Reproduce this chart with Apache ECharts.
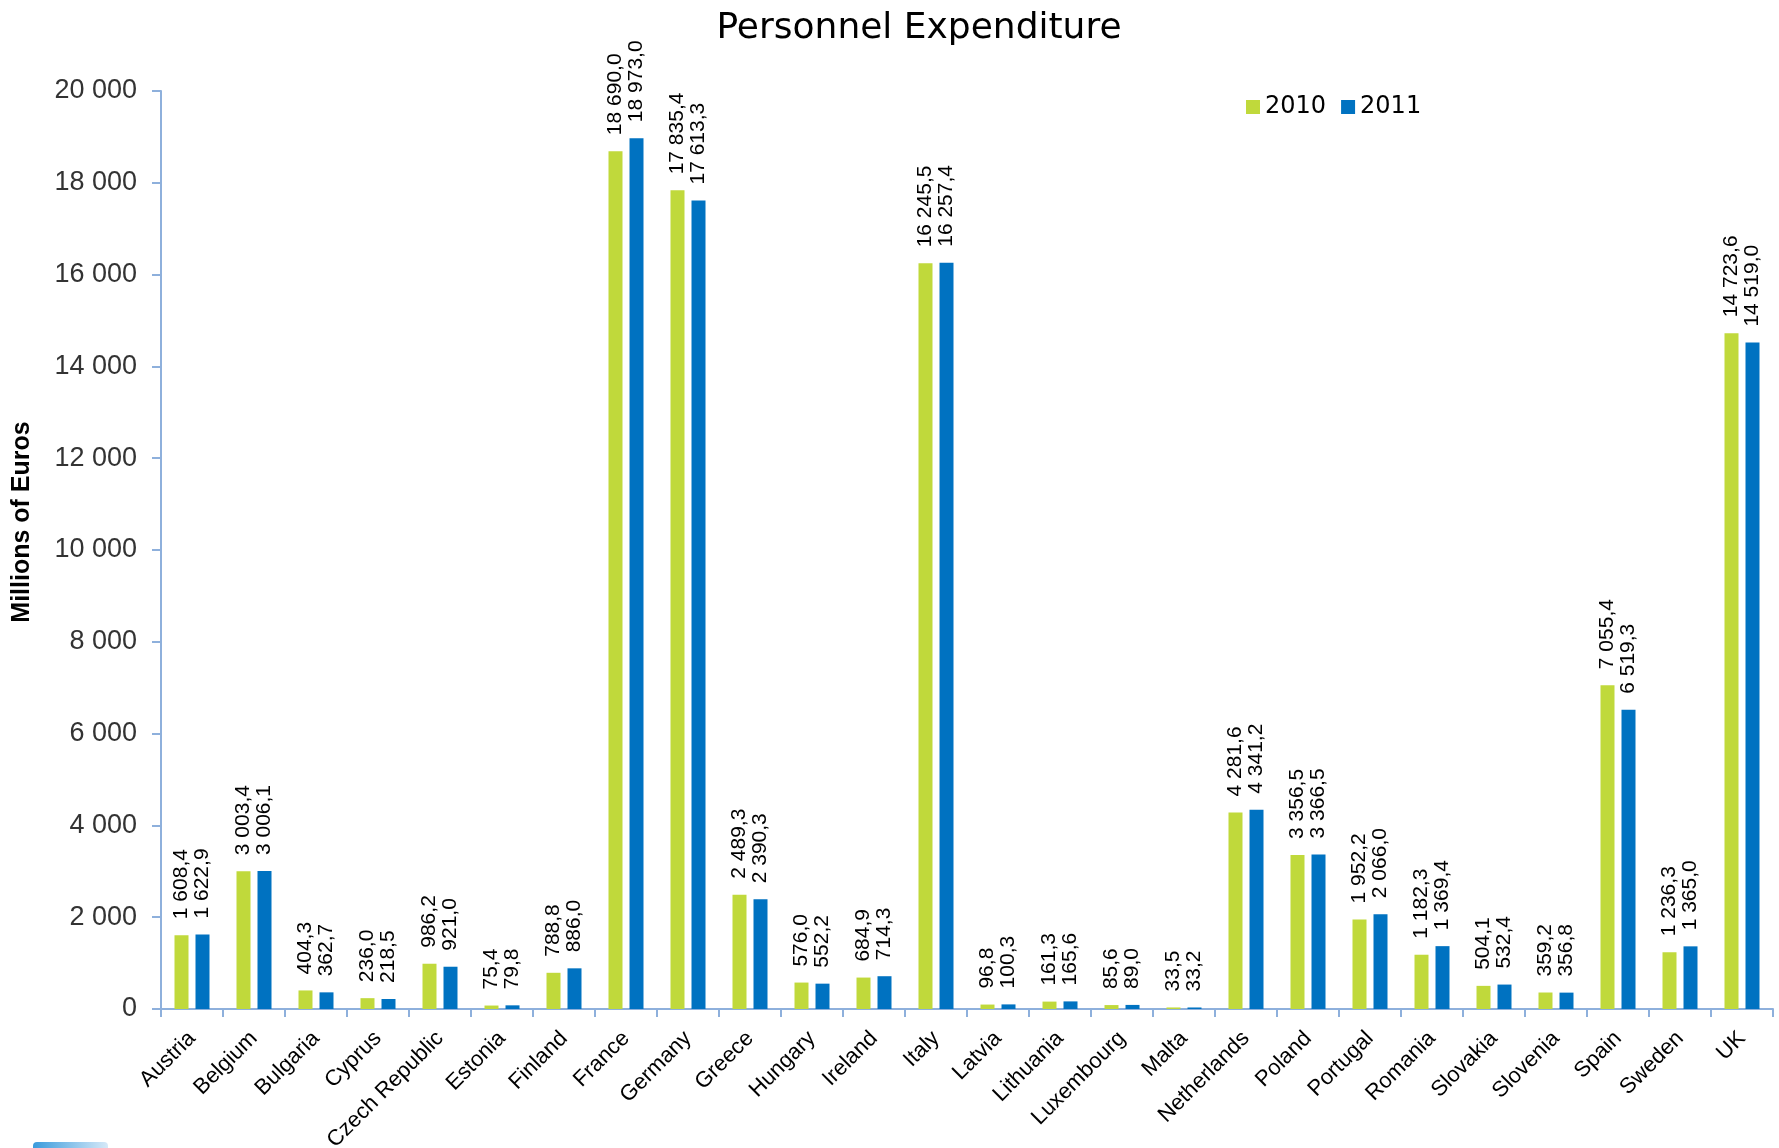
<!DOCTYPE html>
<html>
<head>
<meta charset="utf-8">
<script src="https://cdn.jsdelivr.net/npm/echarts@6/dist/echarts.min.js"></script>
<style>
html,body{margin:0;padding:0;background:#fff;}
#chart{width:1779px;height:1148px;}
</style>
</head>
<body>
<div id="chart"></div>
<script>
const categories = ["Austria","Belgium","Bulgaria","Cyprus","Czech Republic","Estonia","Finland","France","Germany","Greece","Hungary","Ireland","Italy","Latvia","Lithuania","Luxembourg","Malta","Netherlands","Poland","Portugal","Romania","Slovakia","Slovenia","Spain","Sweden","UK"];
const values2010 = [1608.4,3003.4,404.3,236.0,986.2,75.4,788.8,18690.0,17835.4,2489.3,576.0,684.9,16245.5,96.8,161.3,85.6,33.5,4281.6,3356.5,1952.2,1182.3,504.1,359.2,7055.4,1236.3,14723.6];
const values2011 = [1622.9,3006.1,362.7,218.5,921.0,79.8,886.0,18973.0,17613.3,2390.3,552.2,714.3,16257.4,100.3,165.6,89.0,33.2,4341.2,3366.5,2066.0,1369.4,532.4,356.8,6519.3,1365.0,14519.0];
const seriesNames = ["2010","2011"];
const yTicks = {min:0, max:20000, interval:2000};
const yAxisTitle = 'Millions of Euros';

function groupThousands(s){ return s.replace(/\B(?=(\d{3})+(?!\d))/g, ' '); }
function fmtVal(v){
  const parts = v.toFixed(1).split('.');
  return groupThousands(parts[0]) + ',' + parts[1];
}
function fmtTick(v){ return groupThousands(String(Math.round(v))); }

const chart = echarts.init(document.getElementById('chart'), null, {renderer:'canvas'});
const axisColor = '#8EB0DC';
const labelCommon = {
  show:true, position:'top', rotate:90, align:'left', verticalAlign:'middle',
  distance:16, fontFamily:'Liberation Sans, Arial, sans-serif', fontSize:21, color:'#000',
  formatter: p => fmtVal(p.value)
};
chart.setOption({
  animation:false,
  backgroundColor:'#fff',
  title:{
    text:'Personnel Expenditure', left:914, top:6, textAlign:'center',
    textStyle:{fontFamily:'DejaVu Sans, sans-serif', fontSize:36, fontWeight:'normal', color:'#000'}
  },
  legend:{
    data:seriesNames, left:1241, top:90, itemWidth:14, itemHeight:14, itemGap:15,
    icon:'rect',
    textStyle:{fontFamily:'DejaVu Sans, sans-serif', fontSize:24, color:'#000', padding:[0,0,0,0]}
  },
  grid:{left:161, right:6, top:91, bottom:139, containLabel:false, outerBoundsMode:'none'},
  xAxis:{
    type:'category', data:categories,
    axisLine:{show:true, lineStyle:{color:axisColor, width:2}},
    axisTick:{show:true, length:8, lineStyle:{color:axisColor, width:2}},
    axisLabel:{rotate:45, margin:26, interval:0, fontFamily:'Liberation Sans, Arial, sans-serif', fontSize:22, color:'#000'}
  },
  yAxis:{
    type:'value', min:yTicks.min, max:yTicks.max, interval:yTicks.interval,
    axisLine:{show:true, lineStyle:{color:axisColor, width:2}},
    axisTick:{show:true, length:9, lineStyle:{color:axisColor, width:2}},
    splitLine:{show:false},
    axisLabel:{margin:24, fontFamily:'Liberation Sans, Arial, sans-serif', fontSize:27, color:'#333', formatter: fmtTick}
  },
  graphic:[
    {
      type:'text', x:22, y:522, rotation:Math.PI/2,
      style:{text:yAxisTitle, align:'center', verticalAlign:'middle',
        font:'bold 25px "Liberation Sans", Arial, sans-serif', fill:'#000'}
    },
    {
      type:'rect', left:33, top:1142, shape:{width:75, height:8, r:[4,4,0,0]},
      style:{fill:new echarts.graphic.LinearGradient(0,0,1,0,[{offset:0,color:'#3A9BDC'},{offset:1,color:'#D6E9F8'}])}
    }
  ],
  series:[
    {name:seriesNames[0], type:'bar', data:values2010, barWidth:14, barGap:'50%',
     itemStyle:{color:'#C0D93B'}, label:labelCommon},
    {name:seriesNames[1], type:'bar', data:values2011, barWidth:14, barGap:'50%',
     itemStyle:{color:'#0072C1'}, label:labelCommon}
  ]
});
</script>
</body>
</html>
